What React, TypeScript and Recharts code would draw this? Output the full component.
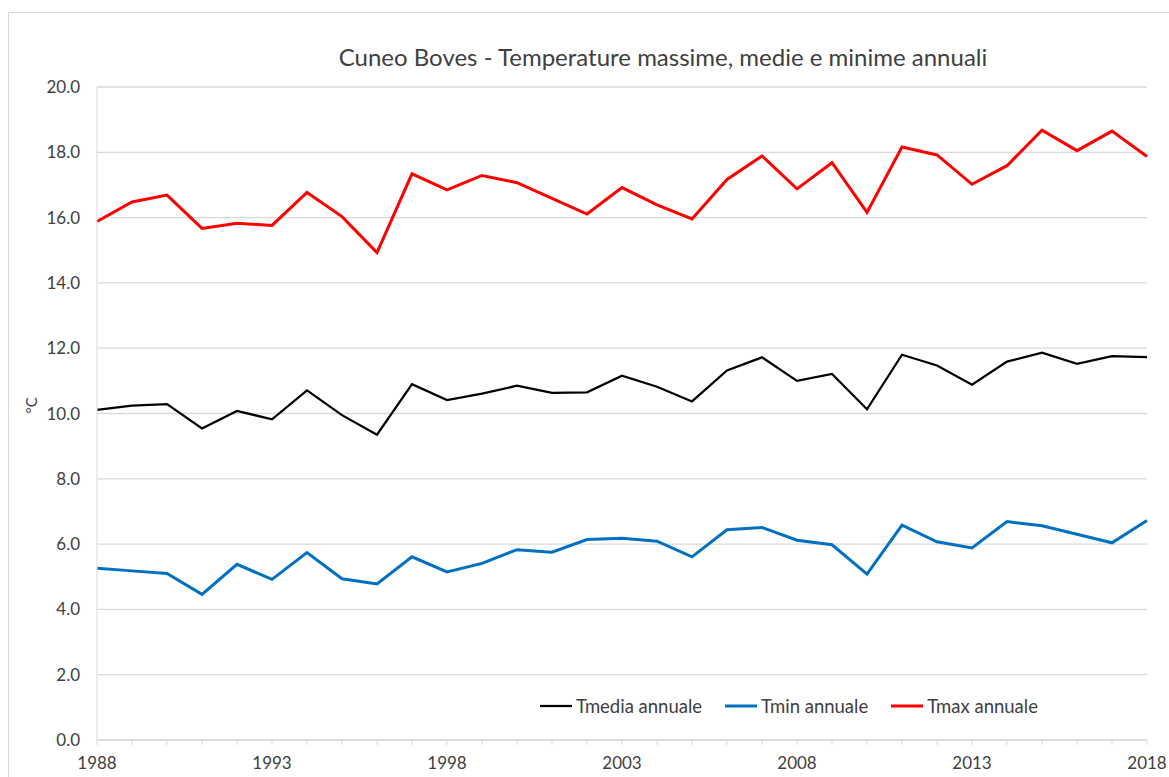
import React from "react";
import { LineChart, Line, XAxis, YAxis, CartesianGrid, Legend, Label } from "recharts";

const years = [
  1988, 1989, 1990, 1991, 1992, 1993, 1994, 1995, 1996, 1997, 1998, 1999, 2000, 2001, 2002, 2003,
  2004, 2005, 2006, 2007, 2008, 2009, 2010, 2011, 2012, 2013, 2014, 2015, 2016, 2017, 2018,
];

const tmedia = [
  10.11, 10.24, 10.29, 9.54, 10.08, 9.82, 10.71, 9.95, 9.35, 10.9, 10.41, 10.61, 10.85, 10.63, 10.65,
  11.16, 10.82, 10.37, 11.32, 11.72, 11.0, 11.21, 10.13, 11.8, 11.47, 10.88, 11.59, 11.86, 11.52, 11.76,
  11.73,
];

const tmin = [
  5.26, 5.18, 5.1, 4.46, 5.38, 4.92, 5.74, 4.94, 4.78, 5.61, 5.15, 5.41, 5.83, 5.75, 6.14, 6.18, 6.09,
  5.61, 6.44, 6.51, 6.12, 5.98, 5.08, 6.58, 6.07, 5.88, 6.69, 6.56, 6.3, 6.04, 6.72,
];

const tmax = [
  15.88, 16.48, 16.69, 15.67, 15.83, 15.76, 16.77, 16.03, 14.93, 17.34, 16.85, 17.29, 17.07, 16.59,
  16.11, 16.92, 16.39, 15.96, 17.17, 17.89, 16.88, 17.68, 16.16, 18.16, 17.92, 17.02, 17.59, 18.68,
  18.05, 18.65, 17.87,
];

const yTicks = [0, 2, 4, 6, 8, 10, 12, 14, 16, 18, 20];

const series = [
  { key: "tmedia", name: "Tmedia annuale", color: "#000000", width: 2.25 },
  { key: "tmin", name: "Tmin annuale", color: "#0070c0", width: 3 },
  { key: "tmax", name: "Tmax annuale", color: "#ff0000", width: 3 },
];

const data = years.map((year, i) => ({
  year,
  tmedia: tmedia[i],
  tmin: tmin[i],
  tmax: tmax[i],
}));

const FONT = "Lato, 'Open Sans', sans-serif";

function LegendContent() {
  return (
    <div style={{ display: "flex", fontFamily: FONT, fontSize: 18.5, color: "#404040", whiteSpace: "nowrap" }}>
      {series.map((s) => (
        <div key={s.key} style={{ display: "flex", alignItems: "center", marginRight: 23 }}>
          <svg width={32} height={6}>
            <line x1={0} y1={3} x2={32} y2={3} stroke={s.color} strokeWidth={s.width} />
          </svg>
          <span style={{ marginLeft: 4 }}>{s.name}</span>
        </div>
      ))}
    </div>
  );
}

export default function App() {
  return (
    <div style={{ position: "fixed", left: 0, top: 0, width: 1169, height: 777, overflow: "hidden", background: "#fff" }}>
      <div
        style={{
          position: "absolute",
          left: 8,
          top: 12,
          width: 1170,
          height: 780,
          border: "1px solid #d9d9d9",
          boxSizing: "border-box",
        }}
      />
      <div
        style={{
          position: "absolute",
          top: 42,
          left: 0,
          width: 1326,
          textAlign: "center",
          fontFamily: FONT,
          fontSize: 24,
          color: "#404040",
        }}
      >
        Cuneo Boves - Temperature massime, medie e minime annuali
      </div>
      <div style={{ position: "absolute", left: 9, top: 13 }}>
        <LineChart
          width={1160}
          height={764}
          data={data}
          margin={{ top: 74, right: 22, left: 28, bottom: 0 }}
        >
          <CartesianGrid vertical={false} stroke="#d9d9d9" strokeWidth={1.3} />
          <XAxis
            dataKey="year"
            type="number"
            domain={[1988, 2018]}
            ticks={years}
            interval={0}
            tickFormatter={(v: number) => ((v - 1988) % 5 === 0 ? String(v) : "")}
            height={37}
            stroke="#d9d9d9"
            tickSize={5}
            tickMargin={12}
            tick={{ fill: "#404040", fontSize: 17, fontFamily: FONT }}
          />
          <YAxis
            type="number"
            domain={[0, 20]}
            ticks={yTicks}
            interval={0}
            width={60}
            tickFormatter={(v: number) => v.toFixed(1)}
            stroke="#d9d9d9"
            tickLine={false}
            tickSize={0}
            tickMargin={17}
            tick={{ fill: "#404040", fontSize: 17, fontFamily: FONT }}
          >
            <Label
              value="°C"
              angle={-90}
              position="insideLeft"
              offset={-5}
              style={{ fill: "#404040", fontSize: 15, fontFamily: FONT }}
            />
          </YAxis>
          <Legend
            layout="horizontal"
            verticalAlign="middle"
            align="center"
            content={<LegendContent />}
            wrapperStyle={{ position: "absolute", left: 531, top: 682, width: "auto" }}
          />
          {series.map((s) => (
            <Line
              key={s.key}
              type="linear"
              dataKey={s.key}
              name={s.name}
              stroke={s.color}
              strokeWidth={s.width}
              dot={false}
              activeDot={false}
              isAnimationActive={false}
            />
          ))}
        </LineChart>
      </div>
    </div>
  );
}
